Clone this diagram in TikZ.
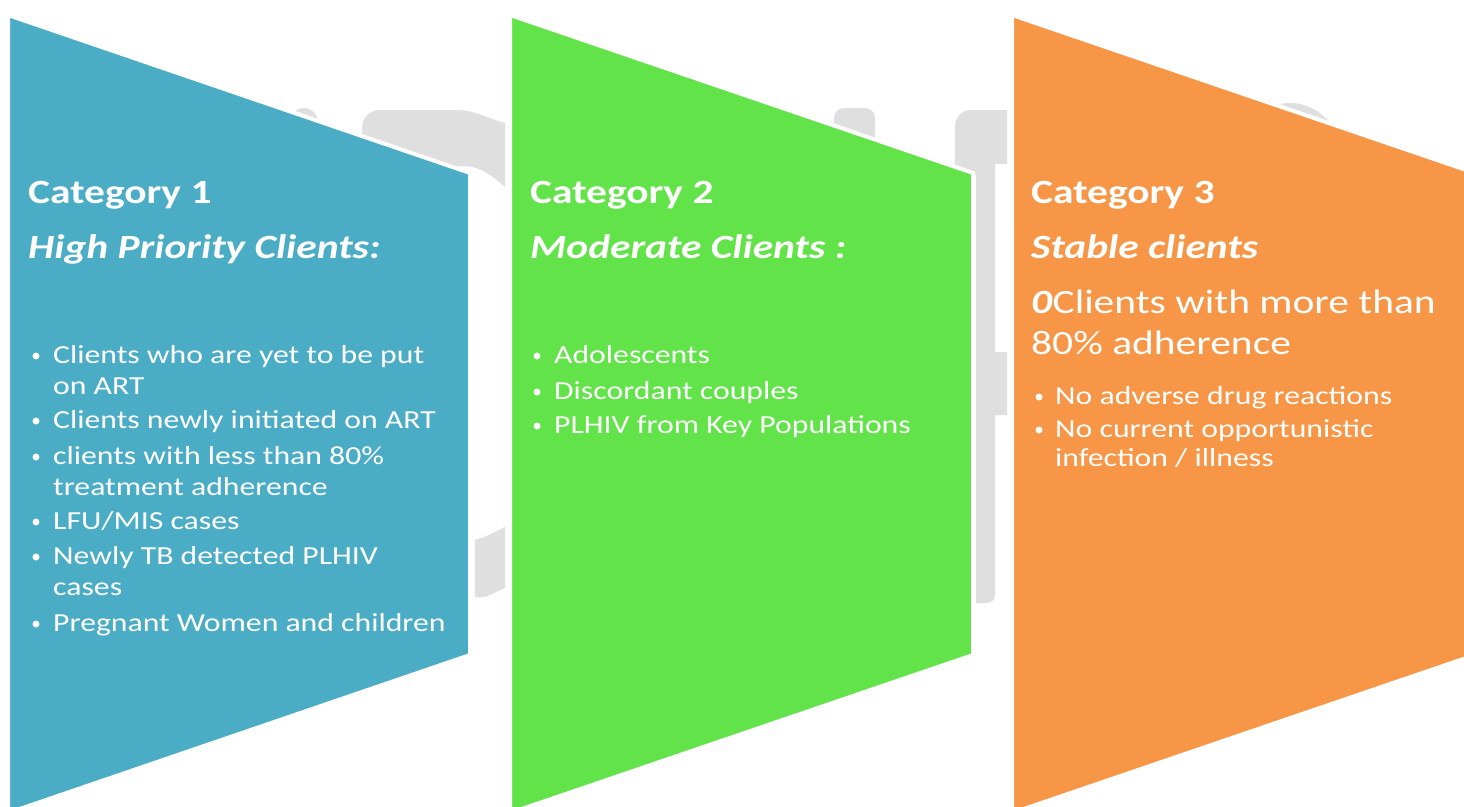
\documentclass[tikz,border=0pt]{standalone}
\usepackage{fontspec}
\setmainfont{Carlito}[FakeStretch=1.22]
\definecolor{catblue}{HTML}{4BACC6}
\definecolor{catgreen}{HTML}{62E34A}
\definecolor{catorange}{HTML}{F79646}
\definecolor{markgray}{HTML}{DFDFDF}
\tikzset{
  panel/.style={draw=white, line width=4pt, line join=miter},
  head/.style={anchor=base west, inner sep=0pt, text=white, font=\fontsize{34}{40}\selectfont\bfseries},
  subhead/.style={head, font=\fontsize{34}{40}\selectfont\bfseries\itshape},
  items/.style={anchor=base west, inner sep=0pt, text=white, align=left, font=\fontsize{26}{31}\selectfont},
}
\begin{document}
\begin{tikzpicture}[x=1pt, y=-1pt]
    \useasboundingbox (0,0) rectangle (1464,806);
    \clip (0,0) rectangle (1464,806);
    \fill[white] (0,0) rectangle (1464,806);
    \fill[markgray] (290,140) -- (290,122) to[out=90,in=180] (304,108) to[out=0,in=90] (318,122) -- (318,140) -- cycle;
    \fill[markgray] (362,175) -- (362,128) to[out=90,in=180] (380,110) -- (455,110) to[out=0,in=165] (505,123) -- (505,187) to[out=140,in=0] (462,166) -- cycle;
    \fill[markgray] (475,540) to[out=15,in=205] (505,527) -- (505,588) to[out=200,in=-10] (475,597) -- cycle;
    \fill[markgray, rounded corners=10pt] (834,150) rectangle (875,108);
    \fill[markgray] (955,175) -- (955,126) to[out=90,in=180] (971,110) -- (1007,110) -- (1007,164) -- (995,164) -- (995,352) -- (1007,352) -- (1007,415) -- (995,415) -- (995,595) to[out=-90,in=0] (987,603) -- (976,603) -- (976,175) -- cycle;
    \fill[markgray] (1290,180) ellipse [x radius=60pt, y radius=77pt];
    \path[panel, fill=catblue] (8,15) -- (470,173) -- (470,655) -- (8,813) -- cycle;
    \path[panel, fill=catgreen] (510,15) -- (973,173) -- (973,655) -- (510,813) -- cycle;
    \path[panel, fill=catorange] (1012,15) -- (1475,173) -- (1475,655) -- (1012,813) -- cycle;
    \node[head] (cat1) at (28,203) {Category 1};
    \node[subhead] (prio1) at (28,258) {High Priority Clients:};
    \node[items] (b1) at (53,394) {Clients who are yet to be put\\on ART};
    \node[items] (b2) at (53,428) {Clients newly initiated on ART};
    \node[items] (b3) at (53,495) {clients with less than 80\%\\treatment adherence};
    \node[items] (b4) at (53,529) {LFU/MIS cases};
    \node[items] (b5) at (53,595) {Newly TB detected PLHIV\\cases};
    \node[items] (b6) at (53,631) {Pregnant Women and children};
    \node[head] (cat2) at (530,203) {Category 2};
    \node[subhead] (prio2) at (530,258) {Moderate Clients :};
    \node[items] (g1) at (554,363) {Adolescents};
    \node[items] (g2) at (554,399) {Discordant couples};
    \node[items] (g3) at (554,433) {PLHIV from Key Populations};
    \node[head] (cat3) at (1031,203) {Category 3};
    \node[subhead] (prio3) at (1031,258) {Stable clients};
    \node[items, font=\fontsize{34}{41}\selectfont] (note3) at (1031,354) {\textbf{\textit{0}}Clients with more than\\80\% adherence};
    \node[items] (o1) at (1055,404) {No adverse drug reactions};
    \node[items, font=\fontsize{26}{29}\selectfont] (o2) at (1055,466) {No current opportunistic\\infection / illness};
    \foreach \bx/\by in {36/363,36/428,36/464,36/529,36/564,36/631,537/363,537/399,537/433,1039/404,1039/437}
        \fill[white] (\bx,\by-7) circle (3.5pt);
\end{tikzpicture}
\end{document}
